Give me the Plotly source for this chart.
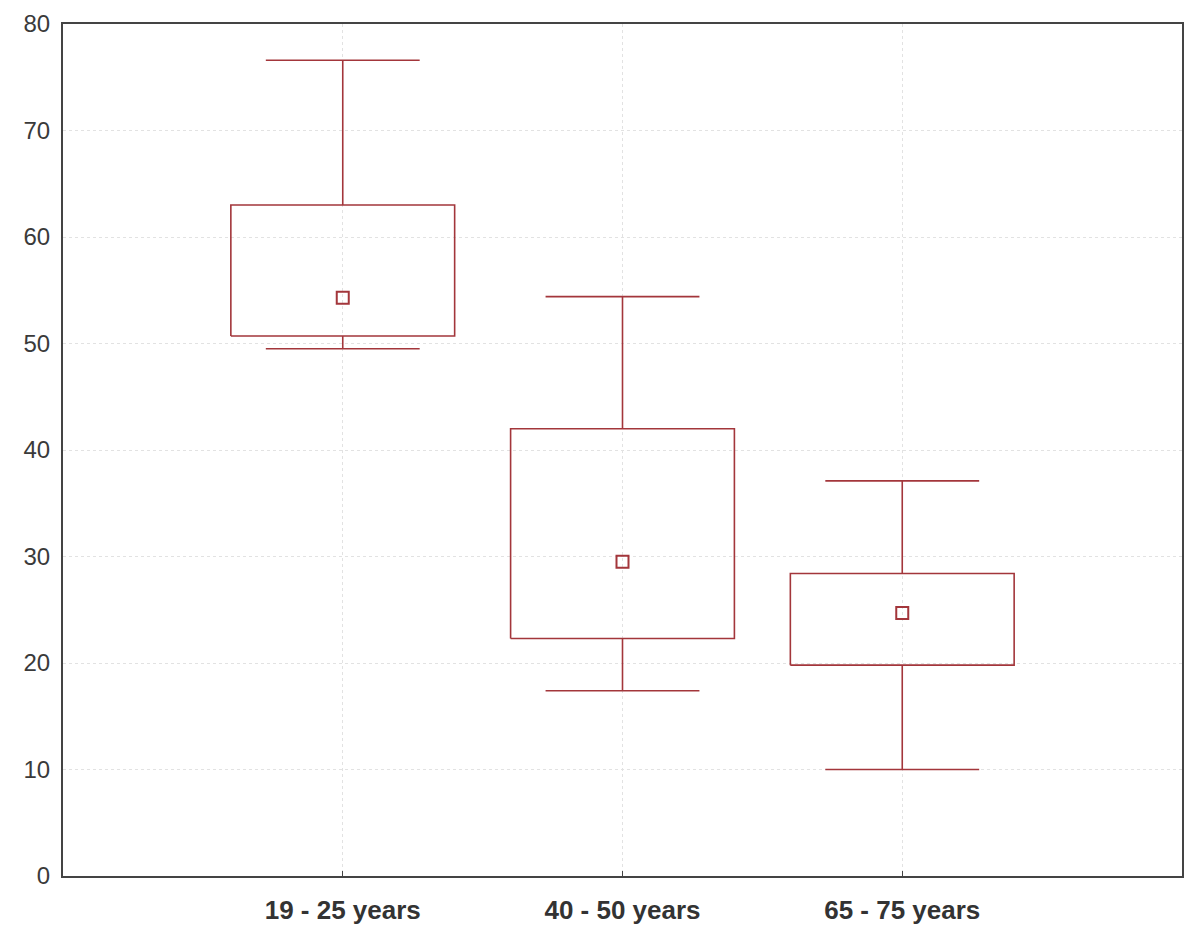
import plotly.graph_objects as go

categories = ["19 - 25 years", "40 - 50 years", "65 - 75 years"]
whisker_low = [49.5, 17.4, 10.0]
box_low = [50.7, 22.3, 19.8]
median = [54.3, 29.5, 24.7]
box_high = [63.0, 42.0, 28.4]
whisker_high = [76.6, 54.4, 37.1]
y_ticks = [0, 10, 20, 30, 40, 50, 60, 70, 80]

COLOR = "#A3363B"
BOX_HALF = 0.4
CAP_HALF = 0.275

fig = go.Figure()
for i, cat in enumerate(categories):
    # box
    xs = [i - BOX_HALF, i + BOX_HALF, i + BOX_HALF, i - BOX_HALF, i - BOX_HALF]
    ys = [box_low[i], box_low[i], box_high[i], box_high[i], box_low[i]]
    fig.add_trace(go.Scatter(x=xs, y=ys, mode="lines",
                             line=dict(color=COLOR, width=1.6),
                             hoverinfo="skip", showlegend=False))
    # whiskers
    wx = [i, i, None, i, i, None,
          i - CAP_HALF, i + CAP_HALF, None, i - CAP_HALF, i + CAP_HALF]
    wy = [box_high[i], whisker_high[i], None, box_low[i], whisker_low[i], None,
          whisker_high[i], whisker_high[i], None, whisker_low[i], whisker_low[i]]
    fig.add_trace(go.Scatter(x=wx, y=wy, mode="lines",
                             line=dict(color=COLOR, width=1.6),
                             hoverinfo="skip", showlegend=False))
    # median marker
    fig.add_trace(go.Scatter(x=[i], y=[median[i]], mode="markers",
                             marker=dict(symbol="square-open", size=12,
                                         color=COLOR, line=dict(width=2, color=COLOR)),
                             showlegend=False, name=cat))

fig.update_layout(
    width=1184, height=916,
    margin=dict(l=55, r=10, t=16, b=48),
    paper_bgcolor="white", plot_bgcolor="white",
    font=dict(family="Liberation Sans, Arial, sans-serif", color="#333333"),
    xaxis=dict(
        range=[-1, 3], tickmode="array", tickvals=[0, 1, 2], ticktext=categories,
        tickfont=dict(size=26, color="#333333", family="Liberation Sans, Arial, sans-serif", weight="bold"),
        showgrid=True, gridcolor="#e2e2e2", griddash="dot", gridwidth=1,
        showline=True, linecolor="#444444", linewidth=2, mirror=True,
        ticks="inside", ticklen=5, tickcolor="#444444",
        zeroline=False, automargin=False, ticklabelstandoff=10,
    ),
    yaxis=dict(
        range=[0, 80], tickmode="array", tickvals=y_ticks,
        tickfont=dict(size=24, color="#3a3a3a"),
        showgrid=True, gridcolor="#e2e2e2", griddash="dot", gridwidth=1,
        showline=True, linecolor="#444444", linewidth=2, mirror=True,
        ticks="", zeroline=False, ticklabelstandoff=6, automargin=False,
    ),
)

fig.write_html("out.html")
